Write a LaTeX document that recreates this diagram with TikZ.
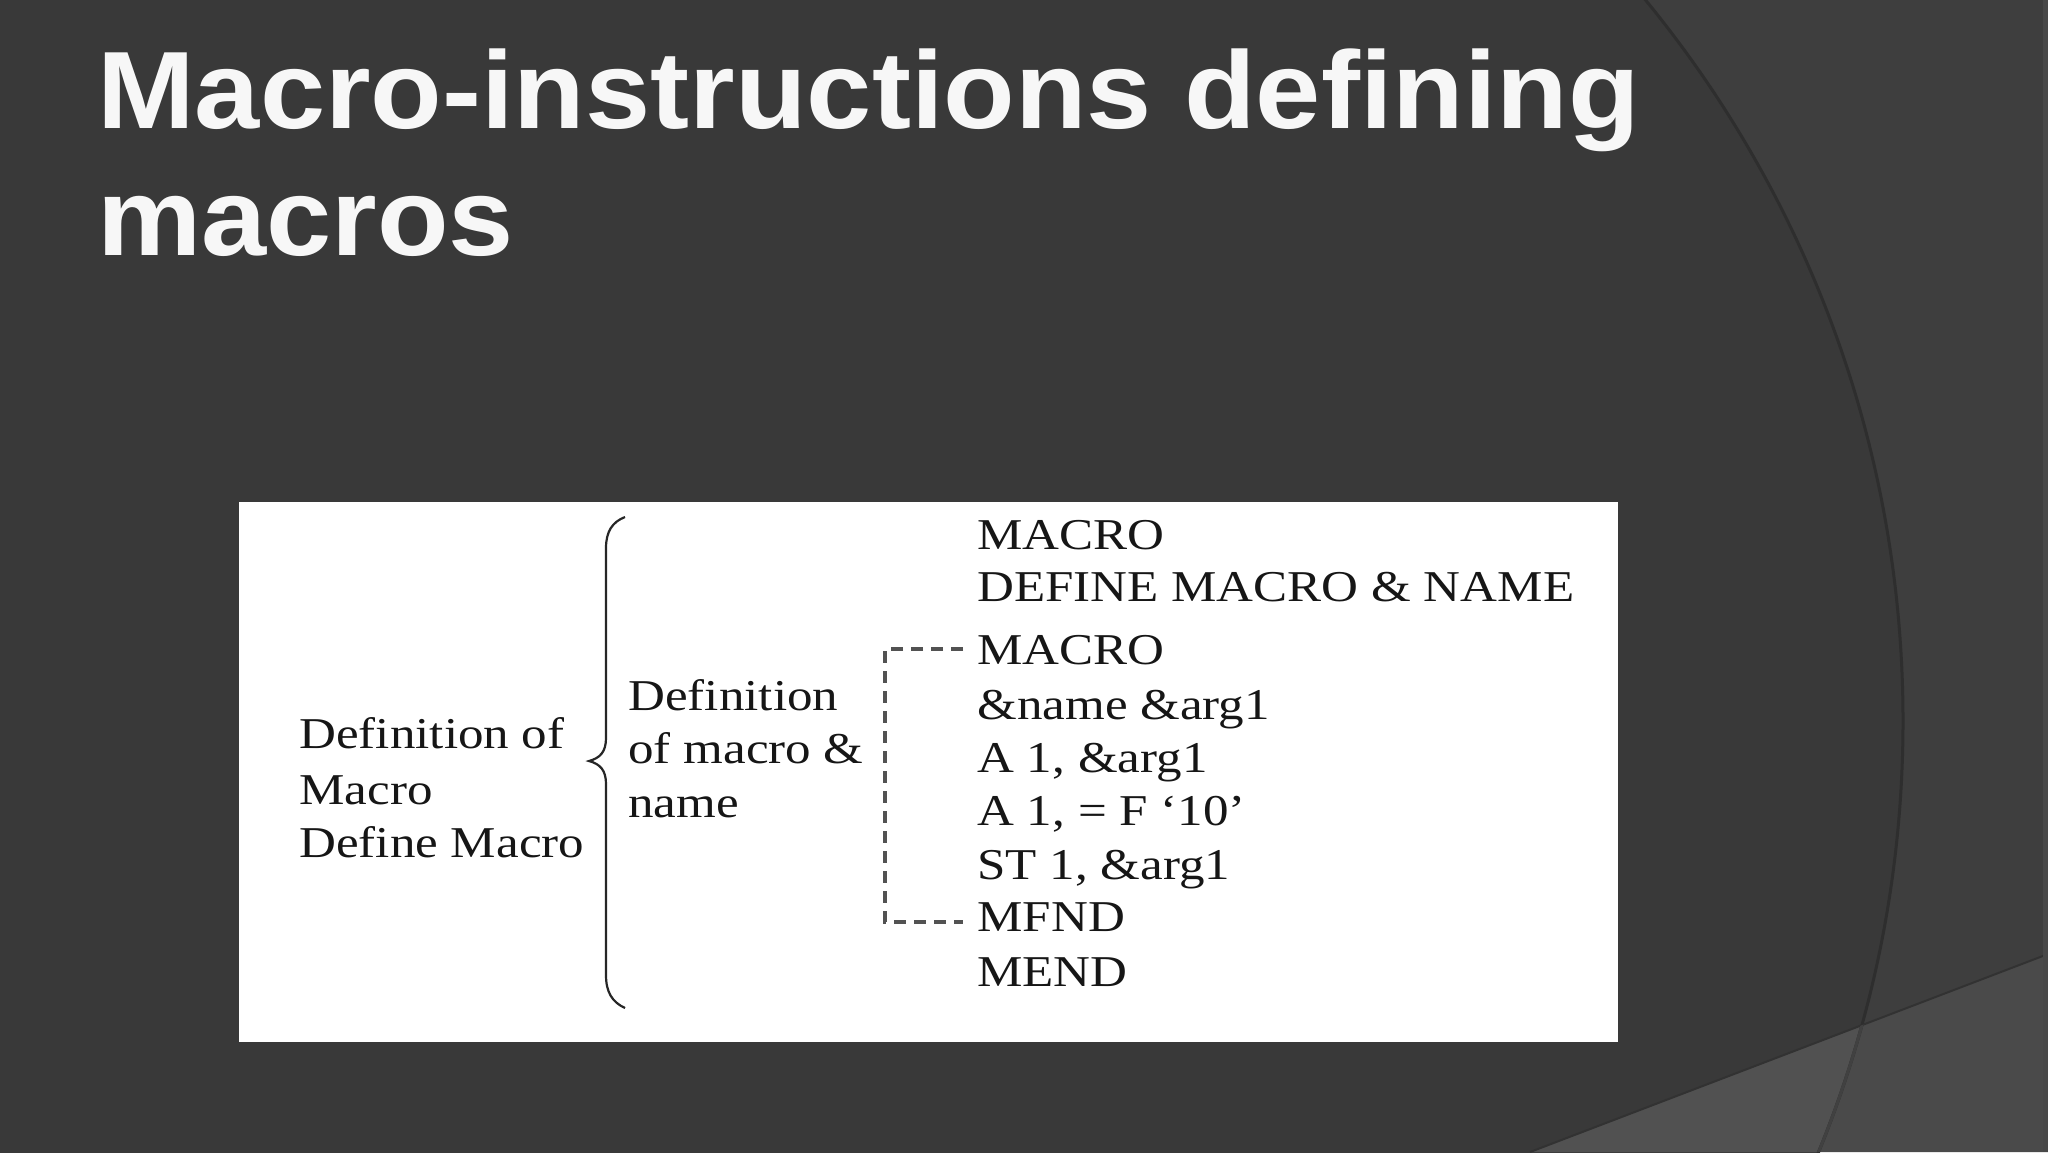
\documentclass[tikz,border=0pt]{standalone}
\usepackage{fontspec}
\newfontfamily\diagfont[FakeStretch=1.16]{Liberation Serif}
\newfontfamily\titlefont[FakeStretch=1.065]{Liberation Sans}
\definecolor{bgout}{HTML}{3E3E3E}
\definecolor{bgin}{HTML}{393939}
\definecolor{arcline}{HTML}{2E2E2E}
\definecolor{bandin}{HTML}{515151}
\definecolor{bandout}{HTML}{4A4A4A}
\definecolor{inktext}{HTML}{161616}
\begin{document}
\begin{tikzpicture}[x=0.5pt,y=-0.5pt,
  titletxt/.style={anchor=base west, inner sep=0pt, text=white!97!black,
    font=\titlefont\bfseries\fontsize{55pt}{60pt}\selectfont},
  txt/.style={anchor=base west, inner sep=0pt, text=inktext,
    font=\diagfont\fontsize{22pt}{26pt}\selectfont},
  link/.style={dash pattern=on 6pt off 4pt, line width=1.7pt, draw=black!68},
  bracepath/.style={line width=1.1pt, draw=black!85}]
\useasboundingbox (0,0) rectangle (2048,1152);
% background
\fill[bgout] (0,0) rectangle (2048,1152);
\begin{scope}
  \clip (0,0) rectangle (2048,1152);
  \fill[bgin] (765,721) circle[radius=569pt];
  % lower-right band
  \fill[bandout] (1530,1152) -- (2048,954) -- (2048,1152) -- cycle;
  \begin{scope}
    \clip (765,721) circle[radius=569pt];
    \fill[bandin] (1530,1152) -- (2048,954) -- (2048,1152) -- cycle;
  \end{scope}
  \draw[black!12!bgin, line width=1pt] (1530,1152) -- (2048,954);
  \draw[arcline, line width=1.5pt] (765,721) circle[radius=569pt];
  \begin{scope}
    \clip (1530,1152) -- (2048,954) -- (2048,1152) -- cycle;
    \draw[black!12!bandout, line width=1.5pt] (765,721) circle[radius=569pt];
  \end{scope}
  \fill[white!5!bgout] (2043,0) rectangle (2048,1152);
\end{scope}
% title
\node[titletxt] (t1) at (97,128) {Macro-instructions defining};
\node[titletxt] (t2) at (97,255) {macros};
% panel
\fill[white] (239,502) rectangle (1618,1042);
% left column
\node[txt] (l1) at (299,748) {Definition of};
\node[txt] (l2) at (299,804) {Macro};
\node[txt] (l3) at (299,857) {Define Macro};
% brace
\draw[bracepath] (625,517) .. controls (612,522) and (606,532) .. (606,548)
  -- (606,738) .. controls (606,752) and (600,758) .. (589,761)
  .. controls (600,764) and (606,770) .. (606,784)
  -- (606,975) .. controls (606,992) and (612,1002) .. (625,1008);
% middle column
\node[txt] (m1) at (628,710) {Definition};
\node[txt] (m2) at (628,763) {of macro \&};
\node[txt] (m3) at (628,817) {name};
% right column
\node[txt] (r1) at (977,549) {MACRO};
\node[txt] (r2) at (977,601) {DEFINE MACRO \& NAME};
\node[txt] (r3) at (977,664) {MACRO};
\node[txt] (r4) at (977,719) {\&name \&arg1};
\node[txt] (r5) at (977,772) {A 1, \&arg1};
\node[txt] (r6) at (977,825) {A 1, = F ‘10’};
\node[txt] (r7) at (977,879) {ST 1, \&arg1};
\node[txt] (r8) at (977,931) {MFND};
\node[txt] (r9) at (977,986) {MEND};
% dashed bracket
\draw[link] ([xshift=-7pt,yshift=7.5pt]r3.base west)
  -- ([xshift=-46pt,yshift=7.5pt]r3.base west)
  |- ([xshift=-7pt,yshift=4.5pt]r8.base west);
\end{tikzpicture}
\end{document}
